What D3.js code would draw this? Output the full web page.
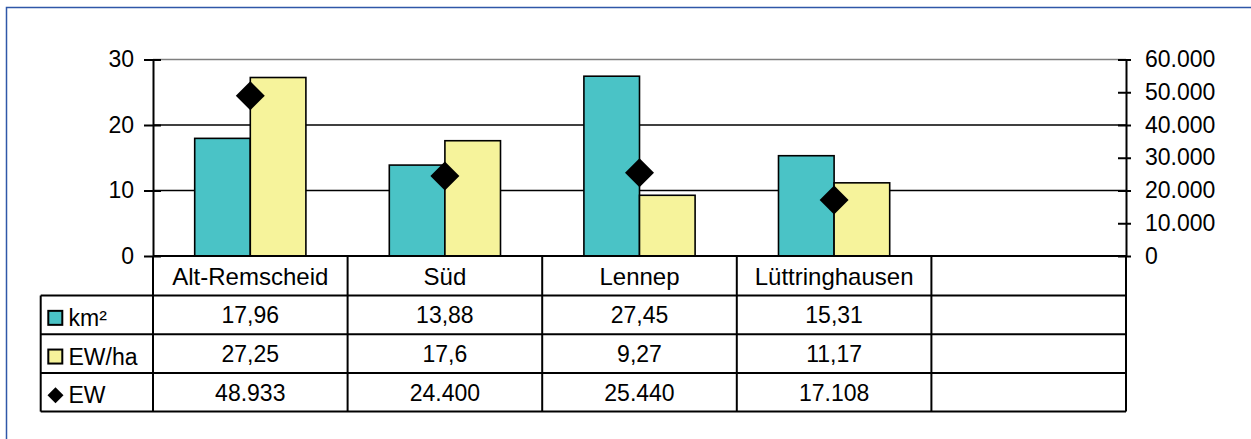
<!DOCTYPE html>
<html>
<head>
<meta charset="utf-8">
<script src="https://cdn.jsdelivr.net/npm/d3@7"></script>
<style>
  html, body { margin: 0; padding: 0; background: #fff; }
  svg { display: block; font-family: "Liberation Sans", Arial, Helvetica, sans-serif; }
</style>
</head>
<body>
<svg id="chart" width="1251" height="439"></svg>
<script>
// Districts (last column of the table is intentionally empty)
const categories = ["Alt-Remscheid", "Süd", "Lennep", "Lüttringhausen", ""];
const seriesNames = ["km²", "EW/ha", "EW"];
const areaKm2 = [17.96, 13.88, 27.45, 15.31, null];
const densityEwHa = [27.25, 17.6, 9.27, 11.17, null];
const residentsEw = [48933, 24400, 25440, 17108, null];
const leftTicks = [0, 10, 20, 30];
const rightTicks = [0, 10000, 20000, 30000, 40000, 50000, 60000];

const colors = { km: "#4ac3c6", ewha: "#f6f39b", frame: "#2f57a8" };

const de = d3.formatLocale({ decimal: ",", thousands: ".", grouping: [3], currency: ["", " €"] });
const fmtInt = de.format(",.0f");
const fmtDec = de.format(",.2~f");

const svg = d3.select("#chart");

// outer chart frame
svg.append("path")
  .attr("d", "M6.5,439 L6.5,7.5 L1251,7.5")
  .attr("fill", "none").attr("stroke", colors.frame).attr("stroke-width", 1.5);

const plot = { left: 153, right: 1126, top: 59.5, bottom: 256 };
const rowTops = [256, 295.5, 334.2, 372.9, 411.6];
const tableLeft = 40.7;

const x = d3.scaleBand().domain(d3.range(categories.length)).range([plot.left, plot.right]).padding(0);
const xSub = d3.scaleBand().domain([0, 1]).range([0, x.bandwidth()]).paddingInner(0).paddingOuter(0.75);
const yL = d3.scaleLinear().domain([0, 30]).range([plot.bottom, plot.top]);
const yR = d3.scaleLinear().domain([0, 60000]).range([plot.bottom, plot.top]);

// horizontal gridlines
svg.append("g").selectAll("line").data(leftTicks.filter(d => d > 0)).join("line")
  .attr("x1", plot.left).attr("x2", plot.right)
  .attr("y1", d => yL(d)).attr("y2", d => yL(d))
  .attr("stroke", d => d === 30 ? "#7f7f7f" : "#000")
  .attr("stroke-width", 1.6);

// bars
const barSeries = [areaKm2, densityEwHa];
const barColors = [colors.km, colors.ewha];
barSeries.forEach((vals, s) => {
  svg.append("g").selectAll("rect")
    .data(vals.map((v, i) => ({ v, i })).filter(d => d.v != null))
    .join("rect")
    .attr("x", d => x(d.i) + xSub(s))
    .attr("width", xSub.bandwidth())
    .attr("y", d => yL(d.v))
    .attr("height", d => yL(0) - yL(d.v))
    .attr("fill", barColors[s])
    .attr("stroke", "#000").attr("stroke-width", 1.6);
});

// diamonds for residents (right axis)
const diamond = d3.symbol().type(d3.symbolSquare).size(420);
svg.append("g").selectAll("path")
  .data(residentsEw.map((v, i) => ({ v, i })).filter(d => d.v != null))
  .join("path")
  .attr("d", diamond)
  .attr("transform", d => `translate(${x(d.i) + x.bandwidth() / 2},${yR(d.v)}) rotate(45)`)
  .attr("fill", "#000");

// left axis
const axL = svg.append("g").attr("transform", `translate(${plot.left},0)`)
  .call(d3.axisLeft(yL).tickValues(leftTicks).tickSizeInner(9).tickSizeOuter(0).tickPadding(0));
axL.attr("font-family", null).attr("font-size", null);
axL.select(".domain").attr("stroke", "#000").attr("stroke-width", 2);
axL.selectAll(".tick line").attr("x1", 8).attr("x2", -9).attr("stroke", "#000").attr("stroke-width", 2);
axL.selectAll(".tick text").attr("x", -19).attr("dy", null).attr("y", 7)
  .attr("font-size", 23).attr("fill", "#000");

// right axis
const axR = svg.append("g").attr("transform", `translate(${plot.right},0)`)
  .call(d3.axisRight(yR).tickValues(rightTicks).tickFormat(fmtInt).tickSizeInner(5).tickSizeOuter(0).tickPadding(0));
axR.attr("font-family", null).attr("font-size", null);
axR.select(".domain").attr("stroke", "#000").attr("stroke-width", 2);
axR.selectAll(".tick line").attr("x1", -8).attr("x2", 5).attr("stroke", "#000").attr("stroke-width", 2);
axR.selectAll(".tick text").attr("x", 19).attr("dy", null).attr("y", 7)
  .attr("font-size", 23).attr("fill", "#000");

// data table
const table = svg.append("g").attr("stroke", "#000").attr("stroke-width", 2);
// column borders
const colEdges = categories.map((c, i) => x(i)).concat([plot.right]);
table.selectAll("line.col").data(colEdges).join("line")
  .attr("x1", d => d).attr("x2", d => d)
  .attr("y1", rowTops[0]).attr("y2", rowTops[rowTops.length - 1]);
// row borders
table.selectAll("line.row").data(rowTops).join("line").attr("class", "row")
  .attr("x1", (d, i) => i === 0 ? plot.left : tableLeft).attr("x2", plot.right)
  .attr("y1", d => d).attr("y2", d => d);
table.append("line").attr("x1", tableLeft).attr("x2", tableLeft)
  .attr("y1", rowTops[1]).attr("y2", rowTops[rowTops.length - 1]);

const rowCenter = r => (rowTops[r] + rowTops[r + 1]) / 2;

// header row: category names
svg.append("g").selectAll("text").data(categories).join("text")
  .attr("x", (d, i) => x(i) + x.bandwidth() / 2)
  .attr("y", rowCenter(0) + 9.5)
  .attr("text-anchor", "middle").attr("font-size", 24)
  .text(d => d);

// value rows
const rows = [
  { vals: areaKm2, fmt: fmtDec },
  { vals: densityEwHa, fmt: fmtDec },
  { vals: residentsEw, fmt: fmtInt }
];
rows.forEach((row, r) => {
  svg.append("g").selectAll("text")
    .data(row.vals.map((v, i) => ({ v, i })).filter(d => d.v != null))
    .join("text")
    .attr("x", d => x(d.i) + x.bandwidth() / 2)
    .attr("y", rowCenter(r + 1) + 8.5)
    .attr("text-anchor", "middle").attr("font-size", 23)
    .text(d => row.fmt(d.v));
});

// legend keys inside the table
const legend = svg.append("g");
seriesNames.forEach((name, r) => {
  const cy = rowCenter(r + 1) + 3;
  if (r < 2) {
    legend.append("rect")
      .attr("x", 48.3).attr("y", cy - 7).attr("width", 14).attr("height", 14)
      .attr("fill", barColors[r]).attr("stroke", "#000").attr("stroke-width", 2);
  } else {
    legend.append("path")
      .attr("d", d3.symbol().type(d3.symbolSquare).size(128))
      .attr("transform", `translate(55.5,${cy}) rotate(45)`)
      .attr("fill", "#000");
  }
  legend.append("text")
    .attr("x", 68.5).attr("y", rowCenter(r + 1) + 11)
    .attr("font-size", 23)
    .text(name);
});
</script>
</body>
</html>
